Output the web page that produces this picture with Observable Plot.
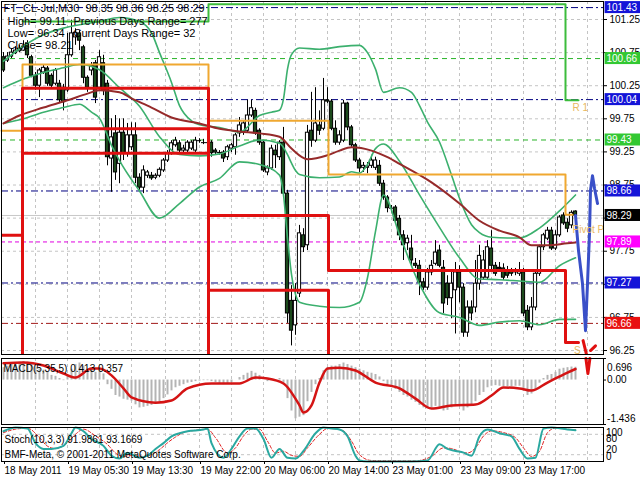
<!DOCTYPE html>
<html><head><meta charset="utf-8">
<script src="https://cdn.jsdelivr.net/npm/d3@7"></script>
<script src="https://cdn.jsdelivr.net/npm/@observablehq/plot@0.6"></script>
<style>
body{margin:0;background:#fff;}
#chart{position:relative;width:640px;height:480px;overflow:hidden;background:#fff;}
</style></head><body><div id="chart"></div>
<script>
// ---------- DATA ----------
const openP = [100.68,100.63,100.69,100.74,100.77,100.78,100.89,100.68,100.40,100.25,
100.45,100.51,100.40,100.28,100.28,100.22,100.18,100.71,100.98,101.04,
100.83,100.37,100.48,100.59,100.22,100.59,100.28,99.15,99.53,99.07,
99.54,99.23,99.32,99.50,98.86,98.71,98.89,98.89,98.86,98.89,
98.97,99.12,99.23,99.35,99.38,99.27,99.27,99.30,99.27,99.42,
99.39,99.39,99.39,99.27,99.24,99.24,99.17,99.30,99.32,99.53,
99.54,99.57,99.80,99.87,99.57,99.39,98.94,99.00,99.27,99.17,
99.39,98.62,97.00,96.63,97.11,97.99,97.84,99.57,99.42,99.65,
99.60,100.03,100.01,99.60,99.39,99.42,99.98,99.62,99.35,99.12,
99.01,99.01,99.04,99.01,99.04,98.77,98.56,98.40,98.41,98.24,
97.99,97.87,97.79,97.56,97.53,97.28,97.20,97.43,97.56,97.76,
97.50,97.26,97.04,97.16,97.43,97.20,96.52,96.90,96.90,97.26,
97.35,97.35,97.79,97.53,97.50,97.49,97.46,97.44,97.43,97.41,
97.43,96.85,96.60,96.90,97.41,97.81,97.94,98.06,97.79,97.99,
98.29,98.18,98.14,98.35];
const highP = [100.75,100.75,100.81,100.84,100.86,100.93,100.93,100.71,100.45,100.51,
100.57,100.54,100.43,100.51,100.33,100.27,101.04,101.24,101.11,101.08,
100.86,100.40,100.60,100.63,100.78,100.71,100.33,99.75,99.80,99.75,
99.75,99.68,99.69,99.69,98.92,99.04,98.97,98.94,98.92,99.01,
99.15,99.27,99.42,99.47,99.42,99.35,99.42,99.42,99.47,99.45,
99.44,99.42,99.42,99.30,99.27,99.27,99.35,99.38,99.53,99.77,
99.72,100.03,100.03,99.91,99.60,99.42,99.04,99.35,99.35,99.42,
99.62,98.67,97.23,97.26,98.14,98.09,99.65,100.15,100.22,99.87,
100.36,100.22,100.04,99.72,99.57,100.03,100.00,99.65,99.38,99.15,
99.09,99.09,99.20,99.17,99.12,98.82,98.59,98.44,98.44,98.29,
98.06,97.99,97.99,97.64,97.61,97.34,97.49,97.61,97.91,97.84,
97.61,97.38,97.46,97.58,97.53,97.26,97.00,97.00,97.61,97.84,
97.76,97.91,98.06,97.58,97.58,97.56,97.52,97.49,97.49,97.58,
97.49,96.93,97.05,97.46,97.84,98.02,98.11,98.11,98.06,98.29,
98.33,98.24,98.36,98.36];
const lowP = [100.45,100.60,100.66,100.72,100.75,100.77,100.66,100.37,100.18,100.07,
100.42,100.24,100.21,100.25,99.98,99.87,100.15,100.68,100.86,100.78,
100.28,100.15,100.40,99.98,100.18,100.10,99.04,98.64,98.82,98.77,
99.12,99.17,99.27,98.77,98.67,98.62,98.85,98.82,98.83,98.86,
98.94,99.09,99.20,99.32,99.24,99.24,99.23,99.27,99.24,99.38,
99.36,99.35,99.17,99.20,99.20,99.09,99.12,99.24,99.20,99.47,
99.50,99.54,99.77,99.50,99.35,98.94,98.89,98.97,99.00,99.12,
98.59,96.66,96.32,96.48,97.05,97.73,97.76,99.32,99.39,99.50,
99.57,99.98,99.57,99.35,99.35,99.39,99.57,99.32,99.09,98.94,
98.94,98.92,99.00,98.97,98.73,98.52,98.33,98.33,98.17,97.91,
97.61,97.76,97.53,97.49,97.08,97.16,97.16,97.38,97.53,97.50,
96.81,96.93,96.73,96.50,96.97,96.45,96.45,96.70,96.82,97.16,
97.31,97.31,97.46,97.37,97.43,97.31,97.34,97.37,97.38,97.37,
96.76,96.55,96.55,96.85,97.37,97.76,97.91,97.76,97.76,97.96,
98.14,98.03,98.09,98.25];
const closeP = [100.48,100.69,100.75,100.78,100.81,100.84,100.71,100.40,100.25,100.48,
100.52,100.28,100.25,100.48,100.03,100.00,100.71,101.04,101.05,100.93,
100.37,100.22,100.55,100.07,100.68,100.18,99.17,99.47,98.94,99.54,
99.23,99.50,99.50,98.86,98.71,98.97,98.94,98.85,98.89,98.98,
99.12,99.23,99.38,99.42,99.27,99.30,99.39,99.39,99.42,99.42,
99.39,99.39,99.23,99.24,99.24,99.15,99.32,99.35,99.50,99.65,
99.68,99.80,99.91,99.53,99.39,98.97,99.00,99.30,99.20,99.39,
98.62,96.81,96.55,97.00,98.02,97.81,99.54,99.42,99.68,99.57,
100.03,100.01,99.60,99.39,99.50,99.98,99.62,99.35,99.12,99.00,
99.04,99.03,99.12,99.12,98.77,98.56,98.40,98.40,98.21,97.99,
97.84,97.94,97.61,97.53,97.28,97.20,97.43,97.53,97.73,97.53,
96.96,97.04,97.26,97.43,97.20,96.52,96.90,96.81,97.26,97.68,
97.61,97.81,97.53,97.41,97.49,97.35,97.38,97.41,97.46,97.46,
96.81,96.60,96.90,97.41,97.81,97.99,98.06,97.79,97.99,98.26,
98.17,98.09,98.33,98.29];

// Bollinger bands (20) and slow moving average, read at sampled bar indices
const upperIdx = [0,5,10,15,19,24,29,34,37,39,42,44,47,49,54,59,64,67,69,70,71,72,74,79,84,89,91,93,95,99,102,104,106,109,112,114,117,119,122,126,129,134,139,143];
const upperVal = [100.62,100.85,101.02,101.12,101.17,101.22,101.28,101.22,101.05,100.75,100.30,99.95,99.72,99.66,99.62,99.55,99.80,99.85,99.88,100.05,100.50,100.72,100.82,100.80,100.84,100.86,100.75,100.50,100.15,100.22,100.15,99.95,99.70,99.40,98.90,98.55,98.15,98.03,97.96,97.95,97.95,98.10,98.36,98.60];
const midIdx = [0,5,10,15,19,24,29,34,39,44,49,54,59,64,69,71,72,73,74,79,84,87,89,91,93,95,99,104,109,114,119,124,129,134,139,143];
const midVal = [100.22,100.35,100.45,100.52,100.57,100.49,100.22,99.94,99.48,99.21,99.19,99.22,99.34,99.43,99.38,99.21,99.08,98.97,98.91,98.86,98.87,98.95,98.93,99.06,99.30,99.37,99.11,98.60,98.11,97.65,97.33,97.32,97.30,97.28,97.53,97.65];
const lowerIdx = [0,5,10,15,19,22,24,27,29,34,39,44,49,54,59,64,69,70,71,72,73,74,79,84,89,91,93,95,99,104,109,114,119,124,129,134,139,143];
const lowerVal = [99.68,99.75,99.85,99.92,99.97,99.85,99.76,99.35,99.12,98.66,98.25,98.47,98.72,98.85,99.10,99.06,98.90,98.60,97.95,97.40,97.10,96.98,96.92,96.90,96.98,97.35,98.05,98.60,98.00,97.25,96.82,96.75,96.63,96.68,96.70,96.64,96.72,96.72];
const maIdx = [0,4,10,16,21,24,29,32,37,42,49,54,59,64,69,72,76,81,84,87,92,96,99,107,114,119,124,129,132,136,141,143];
const maVal = [99.68,99.80,99.92,100.03,100.13,100.18,100.15,100.06,99.92,99.77,99.68,99.60,99.56,99.53,99.48,99.30,99.14,99.20,99.27,99.32,99.27,99.17,99.07,98.79,98.47,98.21,98.06,97.96,97.84,97.84,97.87,97.88];

// Daily step levels: edges in bar index, one value per segment
const stepEdges = [-0.5, 4.75, 51.25, 81.25, 140.5, 143.75];
const orangeEdges = [-0.5, 4.75, 51.25, 81.25, 140.5, 142.25];
const orangeVals = [99.57, 100.57, 99.72, 98.91, 98.30];
const redAVals = [97.99, 100.21, 98.29, 97.46, 96.37];
const redBVals = [95.00, 99.60, 97.16, 95.00, 95.00];
const redCVals = [95.00, 99.23, 95.00, 95.00, 95.00];
const greenStepEdges = [4.75, 51.25, 140.5, 143.75];
const greenStepVals = [101.22, 101.48, 100.03];

// Horizontal levels with price boxes
const navyLevels = [101.43, 100.04, 98.66, 97.27];
const greenLevels = [100.66, 99.43];
const magentaLevels = [97.89];
const redLevels = [96.66];
const bidPrice = 98.29;

// Projection line at the right
const projIdx = [143, 143.75, 144.75, 145.5, 146, 146.5, 146.75, 147.25, 147.75, 148.5];
const projVal = [98.29, 97.76, 97.26, 96.55, 97.26, 98.02, 98.67, 98.89, 98.70, 98.47];
const projRedIdx = [144.9, 145.75, 146.75, 148];
const projRedVal = [96.40, 96.19, 96.25, 96.32];

// MACD(5,35,5)
const macdHist = [0.40,0.45,0.50,0.55,0.58,0.60,0.58,0.50,0.40,0.35,
0.32,0.25,0.15,0.12,0.05,-0.02,0.15,0.35,0.50,0.55,
0.45,0.35,0.35,0.25,0.30,0.20,-0.15,-0.30,-0.50,-0.55,
-0.62,-0.65,-0.68,-0.80,-0.90,-0.88,-0.85,-0.82,-0.78,-0.70,
-0.60,-0.48,-0.35,-0.25,-0.20,-0.15,-0.10,-0.08,-0.05,-0.03,
-0.02,-0.02,-0.05,-0.08,-0.12,-0.15,-0.12,-0.08,0.00,0.08,
0.15,0.22,0.28,0.22,0.15,0.00,-0.05,0.00,0.00,0.05,
-0.10,-0.60,-1.00,-1.25,-1.20,-1.15,-0.70,-0.40,-0.15,0.05,
0.30,0.40,0.45,0.45,0.50,0.55,0.50,0.45,0.40,0.35,
0.30,0.25,0.22,0.18,0.10,-0.05,-0.15,-0.22,-0.30,-0.40,
-0.50,-0.55,-0.65,-0.72,-0.82,-0.90,-0.90,-0.90,-0.85,-0.88,
-1.00,-0.98,-0.90,-0.85,-0.85,-1.00,-0.90,-0.85,-0.70,-0.50,
-0.40,-0.25,-0.20,-0.18,-0.20,-0.22,-0.22,-0.22,-0.20,-0.20,
-0.35,-0.50,-0.45,-0.30,-0.10,0.05,0.15,0.18,0.25,0.35,
0.38,0.40,0.42,0.413];
const sigIdx = [0,5,10,15,18,22,24,27,30,32,38,42,46,52,59,63,66,70,74,75,77,79,81,84,88,93,99,103,107,112,118,122,125,129,132,136,141,143];
const sigVal = [0.54,0.57,0.47,0.21,0.08,0.37,0.37,0.15,-0.27,-0.56,-0.73,-0.66,-0.27,-0.11,-0.11,0.08,0.05,-0.11,-0.82,-1.05,-0.82,-0.08,0.37,0.40,0.31,-0.08,-0.27,-0.60,-0.92,-0.82,-0.79,-0.50,-0.24,-0.27,-0.34,-0.08,0.24,0.357];
const macdVIdx = [145.6, 146.1, 146.6];
const macdVVal = [0.696, 0.21, 0.696];
const macdTicks = [0.696, 0.00, -1.436];

// Stochastic(10,3,3)
const stochIdx = [0,3,6,8,10,12,15,17,18,20,22,25,27,29,31,34,36,38,40,42,44,46,50,51,52,55,57,59,61,63,65,67,69,71,73,75,78,80,82,84,86,88,89,91,102,106,109,111,113,115,117,119,121,124,127,129,131,133,135,137,141,143];
const stochVal = [89,100,97,54,37,37,46,83,100,89,66,46,17,9,26,11,17,37,54,74,83,89,94,97,54,11,37,74,97,97,66,11,37,11,9,31,83,100,97,94,74,17,3,0,0,3,51,37,31,26,17,74,94,83,74,37,9,11,97,100,94,92];
const stSigIdx = [0,3,6,9,11,13,16,18,20,23,26,28,30,32,35,37,39,41,43,45,47,51,53,56,58,60,62,64,66,68,70,72,74,76,79,81,83,85,87,89,92,103,107,110,112,114,116,118,120,122,125,128,130,132,134,136,138,141,143];
const stSigVal = [85,95,98,70,45,38,55,80,95,75,50,25,15,18,15,20,35,55,72,85,90,95,70,25,40,75,95,95,60,25,30,18,15,40,80,97,96,90,60,20,3,2,15,40,38,30,25,40,75,90,85,70,40,15,30,85,98,95,93];
const stochLevels = [80, 20];
const stochTopLabels = ["100", "80"];
const stochTopVals = [100, 80];
const stochBottomLabels = ["20", "0"];
const stochBottomVals = [20, 0];

// Axes
const priceTicks = [96.25, 96.75, 97.25, 97.75, 98.25, 98.75, 99.25, 99.75, 100.25, 100.75, 101.25];
const hiddenPriceLabels = [97.25, 98.25]; // covered by price boxes in the original
const dateIdx = [0, 16, 32, 49, 65, 81, 97, 114, 130];
const dateLabels = ["18 May 2011", "19 May 05:30", "19 May 13:30", "19 May 22:00", "20 May 06:00", "20 May 14:00", "23 May 01:00", "23 May 09:00", "23 May 17:00"];
const gridIdx = [8, 16, 24, 32, 40.5, 49, 57, 65, 73, 81, 89, 97, 105.5, 114, 122, 130, 138, 146];

// Texts
const headerTitle = "FT_CL-Jul,M30  98.35 98.36 98.25 98.29";
const infoLeft = ["High= 99.11", "Low= 96.34", "Close= 98.21"];
const infoRight = ["Previous Days Range= 277", "Current Days Range= 32"];
const macdTitle = "MACD(5,35,5) 0.413 0.357";
const stochTitle = "Stoch(10,3,3) 91.9861 93.1669";
const copyright = "BMF-Meta, © 2001-2011 MetaQuotes Software Corp.";

// ---------- BUILD ----------
const FONT = "'Liberation Sans', Arial, sans-serif";
const xDomain = [-0.5, 150];
const bars = openP.map((o, i) => ({i, o, h: highP[i], l: lowP[i], c: closeP[i]}));
const dojis = bars.filter(d => Math.abs(d.o - d.c) < 0.015);
const pts = (xs, ys) => xs.map((x, k) => ({x, y: ys[k]}));
const steps = (edges, vals) => {
  const out = [];
  vals.forEach((v, k) => { out.push({x: edges[k], y: v}); out.push({x: edges[k + 1], y: v}); });
  return out;
};
const boxes = [
  ...navyLevels.map(v => ({v, fill: "#1414d8"})),
  ...greenLevels.map(v => ({v, fill: "#32c832"})),
  ...magentaLevels.map(v => ({v, fill: "#ff00ff"})),
  ...redLevels.map(v => ({v, fill: "#e81010"})),
  {v: bidPrice, fill: "#000000"}
];
const pxPerUnit = 353 / (101.522 - 96.19);
const boxHalf = 6 / pxPerUnit;
const styleBase = {fontFamily: FONT, fontSize: "10px", background: "transparent", color: "black"};
const grid = {stroke: "#c4c4c4", strokeDasharray: "3,3", strokeWidth: 1};
const band = {x: "x", y: "y", stroke: "#3cb06e", strokeWidth: 1.6, curve: "monotone-x"};
const textAt = (t, dx, dy, size) => Plot.text([t], {frameAnchor: "top-left", dx, dy, lineAnchor: "top", textAnchor: "start", text: d => d, fontSize: size});

const main = Plot.plot({
  width: 640, height: 356, marginLeft: 1, marginRight: 37, marginTop: 1, marginBottom: 2,
  x: {type: "linear", domain: xDomain, axis: null},
  y: {type: "linear", domain: [96.19, 101.522], axis: null},
  style: styleBase,
  marks: [
    Plot.ruleY(priceTicks, grid),
    Plot.ruleX(gridIdx, grid),
    Plot.ruleY(navyLevels, {stroke: "#000080", strokeDasharray: "7,3,2,3"}),
    Plot.ruleY(greenLevels, {stroke: "#28b428", strokeDasharray: "5,4"}),
    Plot.ruleY(magentaLevels, {stroke: "#e000e0", strokeDasharray: "4,3"}),
    Plot.ruleY(redLevels, {stroke: "#a01818", strokeDasharray: "7,3,2,3"}),
    Plot.ruleY([bidPrice], {stroke: "#c8c8c8"}),
    // candles
    Plot.ruleX(bars, {x: "i", y1: "l", y2: "h", stroke: "black"}),
    Plot.rect(bars, {x1: d => d.i - 0.4, x2: d => d.i + 0.4, y1: d => Math.min(d.o, d.c), y2: d => Math.max(d.o, d.c),
      fill: d => d.c >= d.o ? "white" : "#1c4a1c", stroke: "black", strokeWidth: 1}),
    Plot.ruleY(dojis, {x1: d => d.i - 0.5, x2: d => d.i + 0.5, y: "c", stroke: "black"}),
    // indicators
    Plot.line(pts(upperIdx, upperVal), band),
    Plot.line(pts(midIdx, midVal), band),
    Plot.line(pts(lowerIdx, lowerVal), band),
    Plot.line(pts(maIdx, maVal), {x: "x", y: "y", stroke: "#962a2a", strokeWidth: 2, curve: "monotone-x"}),
    Plot.line(steps(orangeEdges, orangeVals), {x: "x", y: "y", stroke: "#f0a830", strokeWidth: 2}),
    Plot.line(steps(greenStepEdges, greenStepVals), {x: "x", y: "y", stroke: "#3cbc3c", strokeWidth: 2}),
    Plot.line(steps(stepEdges, redBVals), {x: "x", y: "y", stroke: "#e01010", strokeWidth: 3, clip: true}),
    Plot.line(steps(stepEdges, redCVals), {x: "x", y: "y", stroke: "#e01010", strokeWidth: 3, clip: true}),
    Plot.line(steps(stepEdges, redAVals), {x: "x", y: "y", stroke: "#e01010", strokeWidth: 3, clip: true}),
    Plot.line(pts(projIdx, projVal), {x: "x", y: "y", stroke: "#3a50c8", strokeWidth: 3}),
    Plot.line(pts(projRedIdx.slice(0, 2), projRedVal.slice(0, 2)), {x: "x", y: "y", stroke: "#e01010", strokeWidth: 3, clip: true}),
    Plot.line(pts(projRedIdx.slice(2), projRedVal.slice(2)), {x: "x", y: "y", stroke: "#e01010", strokeWidth: 3, clip: true}),
    // level names
    Plot.text(["R 1"], {x: 142.25, y: 99.91, text: d => d, fill: "#e8b860", textAnchor: "start", fontSize: 10}),
    Plot.text(["Pivot P"], {x: 142.25, y: 98.08, text: d => d, fill: "#e8b860", textAnchor: "start", fontSize: 10, clip: true}),
    Plot.text(["S"], {x: 142.6, y: 96.25, text: d => d, fill: "#e8b860", textAnchor: "start", fontSize: 10}),
    // header
    textAt(headerTitle, 2, 3, 11),
    ...infoLeft.map((t, k) => textAt(t, 6, 16 + 12 * k, 11)),
    ...infoRight.map((t, k) => textAt(t, 72, 16 + 12 * k, 11)),
    Plot.frame({stroke: "black"}),
    Plot.axisY({anchor: "right", ticks: priceTicks, tickFormat: d => hiddenPriceLabels.includes(d) ? "" : d.toFixed(2),
      tickSize: 3, tickPadding: 3, fontSize: 10, label: null}),
    Plot.rect(boxes, {x1: 150.4, x2: 159.5, y1: d => d.v - boxHalf, y2: d => d.v + boxHalf, fill: "fill"}),
    Plot.text(boxes, {x: 150.75, y: "v", text: d => d.v.toFixed(2), fill: "white", textAnchor: "start", fontSize: 10})
  ]
});

const macd = Plot.plot({
  width: 640, height: 70, marginLeft: 1, marginRight: 37, marginTop: 2, marginBottom: 2,
  x: {type: "linear", domain: xDomain, axis: null}, y: {type: "linear", domain: [-1.436, 0.696], axis: null},
  style: styleBase,
  marks: [
    Plot.ruleX(gridIdx, grid),
    Plot.ruleX(macdHist.map((v, i) => ({i, v})), {x: "i", y1: () => 0, y2: "v", stroke: "#b4b4b4", strokeWidth: 2}),
    Plot.line(pts(sigIdx, sigVal), {x: "x", y: "y", stroke: "#d41414", strokeWidth: 2.5, curve: "monotone-x"}),
    Plot.line(pts(macdVIdx, macdVVal), {x: "x", y: "y", stroke: "#e01010", strokeWidth: 3}),
    textAt(macdTitle, 2, 6, 10),
    Plot.frame({stroke: "black"}),
    Plot.ruleY(macdTicks, {x1: 150, x2: 150.75, stroke: "black"}),
    Plot.text([macdTicks[0]], {x: 150.9, y: d => d, text: d => d.toFixed(3), textAnchor: "start", lineAnchor: "top", dy: 5, fontSize: 10}),
    Plot.text([macdTicks[1]], {x: 150.9, y: d => d, text: d => d.toFixed(2), textAnchor: "start", fontSize: 10}),
    Plot.text([macdTicks[2]], {x: 150.9, y: d => d, text: d => d.toFixed(3), textAnchor: "start", lineAnchor: "bottom", dy: -3, fontSize: 10})
  ]
});

const stoch = Plot.plot({
  width: 640, height: 54, marginLeft: 1, marginRight: 37, marginTop: 1, marginBottom: 19,
  x: {type: "linear", domain: xDomain, axis: null}, y: {type: "linear", domain: [0, 100], axis: null},
  style: styleBase,
  marks: [
    Plot.ruleX(gridIdx, grid),
    Plot.ruleY(stochLevels, grid),
    Plot.line(pts(stSigIdx, stSigVal), {x: "x", y: "y", stroke: "#e02020", strokeWidth: 1, strokeDasharray: "3,2", curve: "monotone-x"}),
    Plot.line(pts(stochIdx, stochVal), {x: "x", y: "y", stroke: "#2aa8a0", strokeWidth: 2, curve: "monotone-x"}),
    textAt(stochTitle, 3, 8, 10),
    textAt(copyright, 3, 23, 10),
    Plot.frame({stroke: "black"}),
    Plot.text(stochTopVals, {x: 150.6, y: d => d, text: (d, k) => stochTopLabels[k], textAnchor: "start", lineAnchor: "top", dy: 1, fontSize: 10}),
    Plot.text(stochBottomVals, {x: 150.6, y: d => d, text: (d, k) => stochBottomLabels[k], textAnchor: "start", lineAnchor: "bottom", dy: -2, fontSize: 10}),
    Plot.axisX({anchor: "bottom", ticks: dateIdx, tickFormat: (d) => dateLabels[dateIdx.indexOf(d)], tickSize: 3, tickPadding: 2,
      textAnchor: "start", dx: 1, fontSize: 10, label: null})
  ]
});

const chart = document.getElementById("chart");
function place(el, top) {
  el.style.position = "absolute"; el.style.left = "0px"; el.style.top = top + "px";
  chart.appendChild(el);
}
place(main, 0);
place(macd, 356);
place(stoch, 426);
</script></body></html>
